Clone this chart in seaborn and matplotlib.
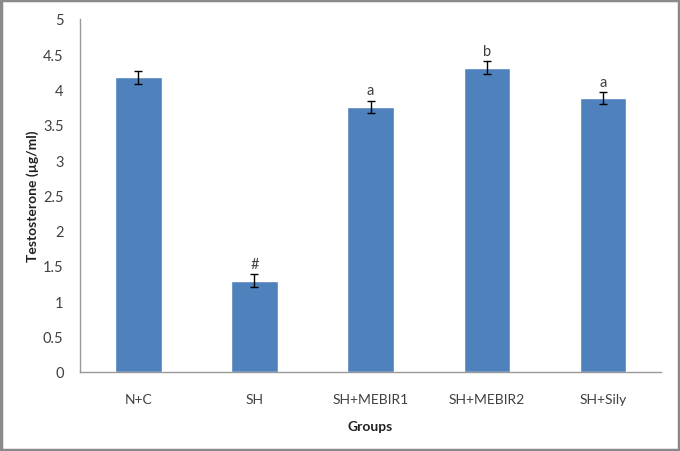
import matplotlib
matplotlib.use("Agg")
import matplotlib.pyplot as plt
import seaborn as sns

groups = ["N+C", "SH", "SH+MEBIR1", "SH+MEBIR2", "SH+Sily"]
means = [4.17, 1.29, 3.75, 4.31, 3.88]
errors = [0.09, 0.09, 0.09, 0.09, 0.08]
letters = ["", "#", "a", "b", "a"]

sns.set_style("white")
plt.rcParams['font.family'] = ['Lato', 'DejaVu Sans']

fig = plt.figure(figsize=(6.8, 4.52), dpi=100)
ax = fig.add_axes([0.118, 0.175, 0.854, 0.781])

sns.barplot(x=groups, y=means, color='#4F81BD', width=0.4, saturation=1,
            errorbar=None, ax=ax)
ax.errorbar(range(len(groups)), means, yerr=errors, fmt='none',
            ecolor='black', elinewidth=1, capsize=3, capthick=1)

for i, (m, e, t) in enumerate(zip(means, errors, letters)):
    if t:
        ax.text(i, m + e + 0.05, t, ha='center', va='bottom', fontsize=10.5,
                color='#404040')

ax.set_ylim(0, 5)
ax.set_xlim(-0.5, 4.5)
ax.set_yticks([0, 0.5, 1, 1.5, 2, 2.5, 3, 3.5, 4, 4.5, 5])
ax.set_yticklabels(['0', '0.5', '1', '1.5', '2', '2.5', '3', '3.5', '4', '4.5', '5'])
ax.set_xticks([0.5, 1.5, 2.5, 3.5, 4.5], minor=True)
ax.tick_params(axis='x', which='major', length=0, labelsize=10, labelcolor='#404040', pad=15)
ax.tick_params(axis='x', which='minor', length=4, color='#999999', direction='out')
ax.tick_params(axis='y', length=4, color='#999999', labelsize=10.5, labelcolor='#404040',
               direction='out', pad=8)

for s in ['top', 'right']:
    ax.spines[s].set_visible(False)
for s in ['left', 'bottom']:
    ax.spines[s].set_color('#999999')
    ax.spines[s].set_linewidth(1)

ax.set_xlabel('Groups', fontsize=10, fontweight='bold', color='#222222', labelpad=11)
ax.set_ylabel('Testosterone (µg/ml)', fontsize=10, fontweight='bold', color='#222222', labelpad=3)

fig.patches.append(plt.Rectangle((0.002, 0.003), 0.996, 0.994, transform=fig.transFigure,
                                 fill=False, edgecolor='#8a8a8a', linewidth=2.5))

fig.savefig('out.png', dpi=100)
